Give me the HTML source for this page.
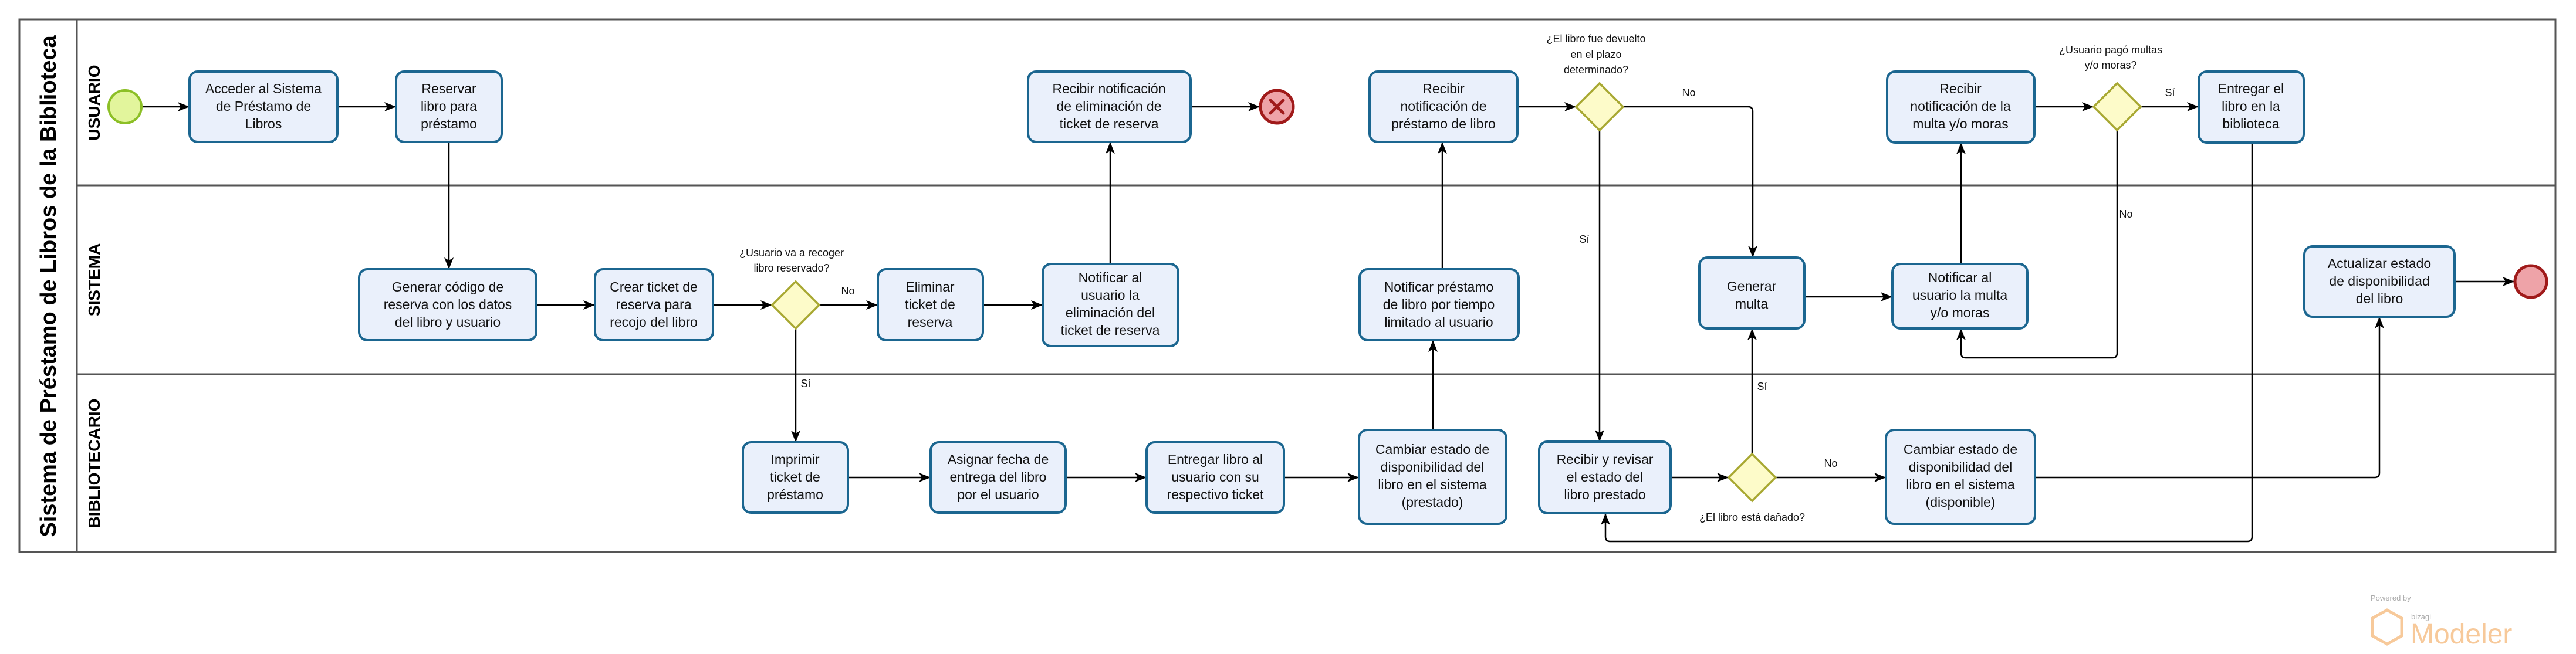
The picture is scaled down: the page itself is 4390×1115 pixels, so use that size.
<!DOCTYPE html>
<html><head><meta charset="utf-8"><style>
html,body{margin:0;padding:0;background:#fff;}
svg{display:block;}
.t{font-family:"Liberation Sans",sans-serif;font-size:23px;fill:#111;text-anchor:middle;}
.g{font-family:"Liberation Sans",sans-serif;font-size:18px;fill:#111;text-anchor:middle;}
.lane{font-family:"Liberation Sans",sans-serif;font-size:28px;font-weight:bold;fill:#000;text-anchor:middle;}
.title{font-family:"Liberation Sans",sans-serif;font-size:38px;font-weight:bold;fill:#000;text-anchor:middle;}
.box{fill:#eaf0fb;stroke:#1b6690;stroke-width:4;}
.gw{fill:#fdfbc9;stroke:#a8a832;stroke-width:3.5;}
.c{fill:none;stroke:#000;stroke-width:2.5;marker-end:url(#ah);}
</style></head><body>
<svg width="4390" height="1115" viewBox="0 0 4390 1115" xmlns="http://www.w3.org/2000/svg">
<defs>
<marker id="ah" markerWidth="12" markerHeight="12" refX="11" refY="6" orient="auto" markerUnits="userSpaceOnUse" viewBox="0 0 12 12">
</marker>
<marker id="a" viewBox="0 0 20 16" refX="20" refY="8" markerWidth="20" markerHeight="16" orient="auto" markerUnits="userSpaceOnUse"><path d="M0,0 L20,8 L0,16 L5,8 Z" fill="#000"/></marker>
</defs>
<style>.c{marker-end:url(#a);}</style>
<!-- pool -->
<rect x="33" y="33" width="4322" height="908" fill="#fff" stroke="#555" stroke-width="3"/>
<line x1="131" y1="33" x2="131" y2="941" stroke="#555" stroke-width="3"/>
<line x1="131" y1="316" x2="4355" y2="316" stroke="#555" stroke-width="3"/>
<line x1="131" y1="638" x2="4355" y2="638" stroke="#555" stroke-width="3"/>
<text class="title" transform="translate(95,488) rotate(-90)">Sistema de Préstamo de Libros de la Biblioteca</text>
<text class="lane" transform="translate(170,175) rotate(-90)">USUARIO</text>
<text class="lane" transform="translate(170,477) rotate(-90)">SISTEMA</text>
<text class="lane" transform="translate(170,790) rotate(-90)">BIBLIOTECARIO</text>

<!-- connectors -->
<path class="c" d="M241,182 L323,182"/>
<path class="c" d="M575,182 L675,182"/>
<path class="c" d="M765,242 L765,459"/>
<path class="c" d="M914,520 L1014,520"/>
<path class="c" d="M1215,520 L1316,520"/>
<path class="c" d="M1396,520 L1496,520"/>
<path class="c" d="M1356,560 L1356,754"/>
<path class="c" d="M1675,520 L1777,520"/>
<path class="c" d="M1892,450 L1892,242"/>
<path class="c" d="M2029,182 L2147,182"/>
<path class="c" d="M1445,814 L1586,814"/>
<path class="c" d="M1816,814 L1954,814"/>
<path class="c" d="M2188,814 L2316,814"/>
<path class="c" d="M2442,733 L2442,580"/>
<path class="c" d="M2458,459 L2458,242"/>
<path class="c" d="M2586,182 L2686,182"/>
<path class="c" d="M2766,182 L2979,182 Q2987,182 2987,190 L2987,439"/>
<path class="c" d="M2726,222 L2726,753"/>
<path class="c" d="M2847,814 L2946,814"/>
<path class="c" d="M2986,774 L2986,560"/>
<path class="c" d="M3026,814 L3214,814"/>
<path class="c" d="M3075,506 L3225,506"/>
<path class="c" d="M3342,450 L3342,243"/>
<path class="c" d="M3467,182 L3568,182"/>
<path class="c" d="M3648,182 L3747,182"/>
<path class="c" d="M3608,222 L3608,602 Q3608,610 3600,610 L3350,610 Q3342,610 3342,602 L3342,560"/>
<path class="c" d="M3468,814 L4047,814 Q4055,814 4055,806 L4055,540"/>
<path class="c" d="M3838,243 L3838,915 Q3838,923 3830,923 L2744,923 Q2736,923 2736,915 L2736,875"/>
<path class="c" d="M4183,480 L4285,480"/>

<!-- events -->
<circle cx="213" cy="182" r="28" fill="#e2f59c" stroke="#8cbf26" stroke-width="4"/>
<circle cx="2176" cy="182" r="28" fill="#eea3a8" stroke="#a01a1a" stroke-width="5"/>
<path d="M2165,171 L2187,193 M2187,171 L2165,193" stroke="#a01a1a" stroke-width="5" stroke-linecap="round"/>
<circle cx="4313" cy="480" r="27" fill="#eea3a8" stroke="#a01a1a" stroke-width="5"/>

<!-- gateways -->
<path class="gw" d="M1356,480 L1396,520 L1356,560 L1316,520 Z"/>
<path class="gw" d="M2726,142 L2766,182 L2726,222 L2686,182 Z"/>
<path class="gw" d="M2986,774 L3026,814 L2986,854 L2946,814 Z"/>
<path class="gw" d="M3608,142 L3648,182 L3608,222 L3568,182 Z"/>

<!-- gateway / flow labels -->
<text class="g" x="1349" y="437">¿Usuario va a recoger</text>
<text class="g" x="1349" y="463">libro reservado?</text>
<text class="g" x="1445" y="502">No</text>
<text class="g" x="1373" y="660">Sí</text>
<text class="g" x="2720" y="72">¿El libro fue devuelto</text>
<text class="g" x="2720" y="99">en el plazo</text>
<text class="g" x="2720" y="125">determinado?</text>
<text class="g" x="2878" y="164">No</text>
<text class="g" x="2700" y="414">Sí</text>
<text class="g" x="3003" y="665">Sí</text>
<text class="g" x="2986" y="888">¿El libro está dañado?</text>
<text class="g" x="3120" y="796">No</text>
<text class="g" x="3597" y="91">¿Usuario pagó multas</text>
<text class="g" x="3597" y="117">y/o moras?</text>
<text class="g" x="3698" y="164">Sí</text>
<text class="g" x="3623" y="371">No</text>

<!-- tasks -->
<rect class="box" x="323" y="122" width="252" height="120" rx="14"/>
<text class="t" x="449" y="159">Acceder al Sistema</text><text class="t" x="449" y="189">de Préstamo de</text><text class="t" x="449" y="219">Libros</text>
<rect class="box" x="675" y="122" width="180" height="120" rx="14"/>
<text class="t" x="765" y="159">Reservar</text><text class="t" x="765" y="189">libro para</text><text class="t" x="765" y="219">préstamo</text>
<rect class="box" x="612" y="459" width="302" height="121" rx="14"/>
<text class="t" x="763" y="497">Generar código de</text><text class="t" x="763" y="527">reserva con los datos</text><text class="t" x="763" y="557">del libro y usuario</text>
<rect class="box" x="1014" y="459" width="201" height="121" rx="14"/>
<text class="t" x="1114" y="497">Crear ticket de</text><text class="t" x="1114" y="527">reserva para</text><text class="t" x="1114" y="557">recojo del libro</text>
<rect class="box" x="1496" y="459" width="179" height="121" rx="14"/>
<text class="t" x="1585" y="497">Eliminar</text><text class="t" x="1585" y="527">ticket de</text><text class="t" x="1585" y="557">reserva</text>
<rect class="box" x="1777" y="450" width="231" height="140" rx="14"/>
<text class="t" x="1892" y="481">Notificar al</text><text class="t" x="1892" y="511">usuario la</text><text class="t" x="1892" y="541">eliminación del</text><text class="t" x="1892" y="571">ticket de reserva</text>
<rect class="box" x="1752" y="122" width="277" height="120" rx="14"/>
<text class="t" x="1890" y="159">Recibir notificación</text><text class="t" x="1890" y="189">de eliminación de</text><text class="t" x="1890" y="219">ticket de reserva</text>
<rect class="box" x="2334" y="122" width="252" height="120" rx="14"/>
<text class="t" x="2460" y="159">Recibir</text><text class="t" x="2460" y="189">notificación de</text><text class="t" x="2460" y="219">préstamo de libro</text>
<rect class="box" x="2317" y="459" width="271" height="121" rx="14"/>
<text class="t" x="2452" y="497">Notificar préstamo</text><text class="t" x="2452" y="527">de libro por tiempo</text><text class="t" x="2452" y="557">limitado al usuario</text>
<rect class="box" x="1266" y="754" width="179" height="120" rx="14"/>
<text class="t" x="1355" y="791">Imprimir</text><text class="t" x="1355" y="821">ticket de</text><text class="t" x="1355" y="851">préstamo</text>
<rect class="box" x="1586" y="754" width="230" height="120" rx="14"/>
<text class="t" x="1701" y="791">Asignar fecha de</text><text class="t" x="1701" y="821">entrega del libro</text><text class="t" x="1701" y="851">por el usuario</text>
<rect class="box" x="1954" y="754" width="234" height="120" rx="14"/>
<text class="t" x="2071" y="791">Entregar libro al</text><text class="t" x="2071" y="821">usuario con su</text><text class="t" x="2071" y="851">respectivo ticket</text>
<rect class="box" x="2316" y="733" width="251" height="160" rx="14"/>
<text class="t" x="2441" y="774">Cambiar estado de</text><text class="t" x="2441" y="804">disponibilidad del</text><text class="t" x="2441" y="834">libro en el sistema</text><text class="t" x="2441" y="864">(prestado)</text>
<rect class="box" x="2623" y="753" width="224" height="122" rx="14"/>
<text class="t" x="2735" y="791">Recibir y revisar</text><text class="t" x="2735" y="821">el estado del</text><text class="t" x="2735" y="851">libro prestado</text>
<rect class="box" x="2896" y="439" width="179" height="121" rx="14"/>
<text class="t" x="2985" y="496">Generar</text><text class="t" x="2985" y="526">multa</text>
<rect class="box" x="3225" y="450" width="230" height="110" rx="14"/>
<text class="t" x="3340" y="481">Notificar al</text><text class="t" x="3340" y="511">usuario la multa</text><text class="t" x="3340" y="541">y/o moras</text>
<rect class="box" x="3216" y="122" width="251" height="121" rx="14"/>
<text class="t" x="3341" y="159">Recibir</text><text class="t" x="3341" y="189">notificación de la</text><text class="t" x="3341" y="219">multa y/o moras</text>
<rect class="box" x="3747" y="122" width="179" height="121" rx="14"/>
<text class="t" x="3836" y="159">Entregar el</text><text class="t" x="3836" y="189">libro en la</text><text class="t" x="3836" y="219">biblioteca</text>
<rect class="box" x="3214" y="733" width="254" height="160" rx="14"/>
<text class="t" x="3341" y="774">Cambiar estado de</text><text class="t" x="3341" y="804">disponibilidad del</text><text class="t" x="3341" y="834">libro en el sistema</text><text class="t" x="3341" y="864">(disponible)</text>
<rect class="box" x="3927" y="420" width="256" height="120" rx="14"/>
<text class="t" x="4055" y="457">Actualizar estado</text><text class="t" x="4055" y="487">de disponibilidad</text><text class="t" x="4055" y="517">del libro</text>

<!-- bizagi logo -->
<text x="4040" y="1024" font-family="Liberation Sans,sans-serif" font-size="13" fill="#aaa">Powered by</text>
<path d="M4068,1040 L4093,1054 L4093,1084 L4068,1098 L4043,1084 L4043,1054 Z" fill="none" stroke="#f7c99a" stroke-width="5"/>
<text x="4109" y="1056" font-family="Liberation Sans,sans-serif" font-size="13" fill="#aaa">bizagi</text>
<text x="4108" y="1097" font-family="Liberation Sans,sans-serif" font-size="48" fill="#f7c99a">Modeler</text>
</svg>
</body></html>
